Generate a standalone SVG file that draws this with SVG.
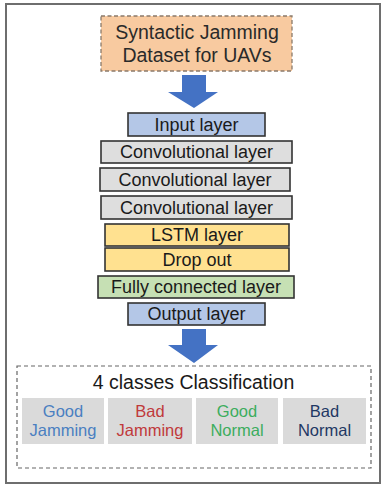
<svg xmlns="http://www.w3.org/2000/svg" width="384" height="492" viewBox="0 0 384 492">
<style>
text{font-family:"Liberation Sans",Arial,sans-serif;text-anchor:middle}
.layer{stroke:#333;stroke-width:1.6}
.lt{font-size:18px;fill:#1a1a1a}
.cls{fill:#dadada}
.ct{font-size:16.5px}
.arrow{fill:#4472c4}
</style>
<rect x="0" y="0" width="384" height="492" fill="#fff"/>
<rect x="6" y="4" width="374" height="479" fill="#fff" stroke="#6e6e6e" stroke-width="2"/>
<g id="dataset">
<rect x="101" y="16" width="191" height="55" fill="#f8caa0" stroke="#8a7a6a" stroke-width="1.3" stroke-dasharray="4,2.5"/>
<text x="197" y="39" font-size="19.5" fill="#2a2a2a">Syntactic Jamming</text>
<text x="197" y="62" font-size="19.5" fill="#2a2a2a">Dataset for UAVs</text>
</g>
<g id="connectors">
<polygon class="arrow" points="182,75 206,75 206,92 218,92 194,108 168,92 182,92"/>
<polygon class="arrow" points="182,329 206,329 206,345 218,345 194,363 168,345 182,345"/>
</g>
<g id="input"><rect class="layer" x="128" y="113" width="137" height="23" fill="#b4c7e7"/><text class="lt" x="196.5" y="130.8">Input layer</text></g>
<g id="conv1"><rect class="layer" x="101" y="141" width="191" height="22" fill="#dedede"/><text class="lt" x="196.5" y="158.3">Convolutional layer</text></g>
<g id="conv2"><rect class="layer" x="100" y="168" width="190" height="23" fill="#dedede"/><text class="lt" x="195" y="185.8">Convolutional layer</text></g>
<g id="conv3"><rect class="layer" x="101" y="196" width="191" height="23" fill="#dedede"/><text class="lt" x="196.5" y="213.8">Convolutional layer</text></g>
<g id="lstm"><rect class="layer" x="105" y="224" width="184" height="22" fill="#ffe190"/><text class="lt" x="197" y="241.3">LSTM layer</text></g>
<g id="dropout"><rect class="layer" x="105" y="248" width="184" height="23" fill="#ffe190"/><text class="lt" x="197" y="265.8">Drop out</text></g>
<g id="fc"><rect class="layer" x="98" y="276" width="196" height="22" fill="#c6e0b4"/><text class="lt" x="196" y="293.3">Fully connected layer</text></g>
<g id="output"><rect class="layer" x="128" y="303" width="137" height="22" fill="#b4c7e7"/><text class="lt" x="196.5" y="320.3">Output layer</text></g>
<g id="classification">
<rect x="17" y="366" width="354" height="102" fill="none" stroke="#666" stroke-width="1.2" stroke-dasharray="4,3"/>
<text x="193.5" y="389" font-size="19.5" fill="#1a1a1a">4 classes Classification</text>
</g>
<g id="good-jamming"><rect class="cls" x="22" y="398" width="82" height="46"/><text class="ct" x="63" y="416.7" fill="#4a7fc1">Good</text><text class="ct" x="63" y="435.7" fill="#4a7fc1">Jamming</text></g>
<g id="bad-jamming"><rect class="cls" x="108" y="398" width="84" height="46"/><text class="ct" x="150" y="416.7" fill="#c0393b">Bad</text><text class="ct" x="150" y="435.7" fill="#c0393b">Jamming</text></g>
<g id="good-normal"><rect class="cls" x="196" y="398" width="82" height="46"/><text class="ct" x="237" y="416.7" fill="#3cad5e">Good</text><text class="ct" x="237" y="435.7" fill="#3cad5e">Normal</text></g>
<g id="bad-normal"><rect class="cls" x="283" y="398" width="83" height="46"/><text class="ct" x="324.5" y="416.7" fill="#1f3864">Bad</text><text class="ct" x="324.5" y="435.7" fill="#1f3864">Normal</text></g>
</svg>
